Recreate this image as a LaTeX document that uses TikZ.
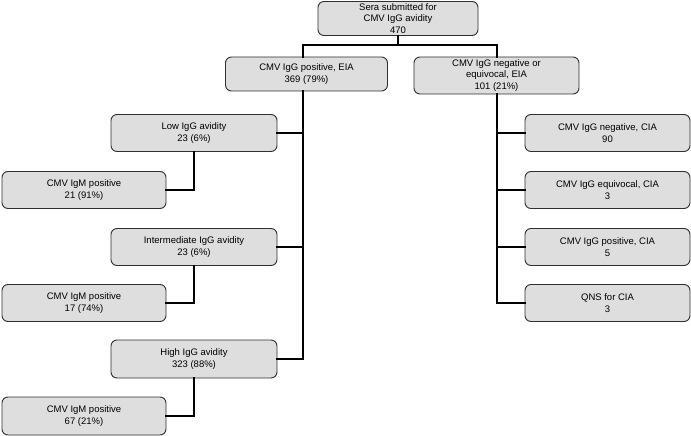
\documentclass[tikz,border=0pt]{standalone}
\usepackage{fontspec}
\setmainfont{Liberation Sans}
\usepackage{xcolor}
\usetikzlibrary{positioning,calc}
\definecolor{boxfill}{HTML}{DEDEDE}
\definecolor{boxline}{HTML}{303030}
\tikzset{
  box/.style={draw=boxline, fill=boxfill, line width=0.9pt, rounded corners=6pt,
    align=center, inner sep=0pt, font=\fontsize{9.5}{11.5}\selectfont},
  link/.style={line width=2.2pt, line cap=rect}
}
\newcommand{\bnode}[5]{\node [box, minimum width=#3, minimum height=#4] (#1) at (#2) {#5}}

\begin{document}
\begin{tikzpicture}[x=1pt,y=-1pt]
\useasboundingbox (0,0) rectangle (691,436);

\bnode{TOP}{398,18.5}{160pt}{34pt}{Sera submitted for\\CMV IgG avidity\\470};
\bnode{POS}{306.5,74}{162pt}{34pt}{CMV IgG positive, EIA\\369 (79\%)};
\bnode{NEG}{496.5,75.5}{165pt}{37pt}{CMV IgG negative or\\equivocal, EIA\\101 (21\%)};

\bnode{LOW}{194,133}{166pt}{37pt}{Low IgG avidity\\23 (6\%)};
\bnode{LOWM}{84,190}{164pt}{37pt}{CMV IgM positive\\21 (91\%)};
\bnode{INT}{194,247}{166pt}{37pt}{Intermediate IgG avidity\\23 (6\%)};
\bnode{INTM}{84,303}{164pt}{37pt}{CMV IgM positive\\17 (74\%)};
\bnode{HIGH}{194,359}{166pt}{38pt}{High IgG avidity\\323 (88\%)};
\bnode{HIGHM}{84,416}{164pt}{38pt}{CMV IgM positive\\67 (21\%)};

\bnode{RNEG}{607.5,133}{165pt}{37pt}{CMV IgG negative, CIA\\90};
\bnode{REQV}{607.5,190}{165pt}{37pt}{CMV IgG equivocal, CIA\\3};
\bnode{RPOS}{607.5,247}{165pt}{37pt}{CMV IgG positive, CIA\\5};
\bnode{QNS}{607.5,303}{165pt}{37pt}{QNS for CIA\\3};

\coordinate (LSP) at (303,45);
\coordinate (RSP) at (497,45);

% top split
\draw[link] (TOP.south) -- (TOP.south |- LSP);
\draw[link] (POS.north -| LSP) |- (RSP) -- (NEG.north -| RSP);

% left spine
\draw[link] (POS.south -| LSP) |- (HIGH.east);
\draw[link] (LOW.east) -- (LOW.east -| LSP);
\draw[link] (INT.east) -- (INT.east -| LSP);
\draw[link] (LOW.south) |- (LOWM.east);
\draw[link] (INT.south) |- (INTM.east);
\draw[link] (HIGH.south) |- (HIGHM.east);

% right spine
\draw[link] (NEG.south -| RSP) |- (QNS.west);
\draw[link] (RNEG.west) -- (RNEG.west -| RSP);
\draw[link] (REQV.west) -- (REQV.west -| RSP);
\draw[link] (RPOS.west) -- (RPOS.west -| RSP);

\end{tikzpicture}
\end{document}
